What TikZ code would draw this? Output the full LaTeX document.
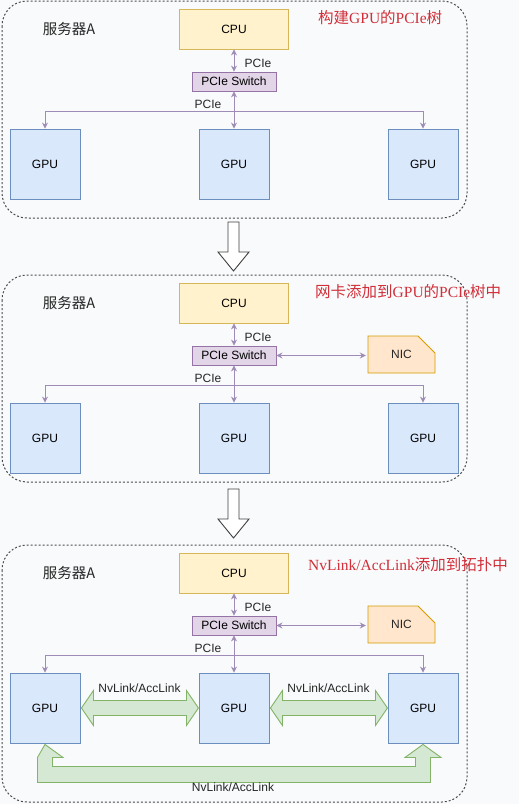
\documentclass[tikz,border=0pt]{standalone}
\usepackage{fontspec}
\setmainfont{Liberation Sans}
\newfontfamily\cjk{Noto Sans CJK SC}
\newfontfamily\titleserif{Liberation Serif}
\usetikzlibrary{arrows.meta}

\definecolor{cpufill}{HTML}{FFF2CC}
\definecolor{cpuline}{HTML}{D6B656}
\definecolor{swfill}{HTML}{E1D5E7}
\definecolor{swline}{HTML}{9673A6}
\definecolor{gpufill}{HTML}{DAE8FC}
\definecolor{gpuline}{HTML}{6C8EBF}
\definecolor{nicfill}{HTML}{FFE6CC}
\definecolor{nicline}{HTML}{D79B00}
\definecolor{nvfill}{HTML}{D5E8D4}
\definecolor{nvline}{HTML}{82B366}
\definecolor{linkcol}{HTML}{9F8CB6}
\definecolor{notered}{HTML}{D1303A}
\definecolor{bgcol}{HTML}{F8FAFB}

\tikzset{
  hwbox/.style={draw, line width=0.9pt, inner sep=0pt, font=\fontsize{12}{14}\selectfont},
  cpubox/.style={hwbox, fill=cpufill, draw=cpuline, minimum width=109pt, minimum height=40pt},
  swbox/.style={hwbox, fill=swfill, draw=swline, minimum width=84pt, minimum height=19pt},
  gpubox/.style={hwbox, fill=gpufill, draw=gpuline, minimum width=70pt, minimum height=70pt},
  nicbox/.style={fill=nicfill, draw=nicline, line width=0.9pt},
  link/.style={draw=linkcol, line width=0.9pt},
  tip/.tip={Stealth[length=6pt, width=6pt]},
  linktext/.style={inner sep=0pt, font=\fontsize{12}{14}\selectfont, text=black!85},
  server/.style={inner sep=0pt, font=\cjk\fontsize{14.5}{16}\selectfont, text=black!85},
  note/.style={inner sep=0pt, anchor=west, text=notered, font=\fontsize{15.5}{17}\selectfont},
  panel/.style={draw=black!70, line width=1pt, dash pattern=on 2pt off 2pt, rounded corners=25pt},
  nvlink/.style={fill=nvfill, draw=nvline, line width=0.9pt},
  stepdown/.style={fill=white, draw=black!75, line width=0.9pt}
}

\begin{document}
\begin{tikzpicture}[x=1pt, y=-1pt]
\useasboundingbox (0,0) rectangle (519,804);
\fill[bgcol] (0,0) rectangle (519,804);

% the three panels
\draw[panel] (2,1) rectangle (467,218);
\draw[panel] (2,275) rectangle (467,482);
\draw[panel] (2,545) rectangle (467,802);

% hollow arrows between panels
\draw[stepdown] (228,222) -- (228,252) -- (218,252) -- (233.5,271) -- (249,252) -- (239,252) -- (239,222) -- cycle;
\draw[stepdown] (228,489) -- (228,519) -- (218,519) -- (233.5,538) -- (249,519) -- (239,519) -- (239,489) -- cycle;

% PCIe tree, same in every panel
\foreach \p/\dy in {1/0,2/274,3/544}{
\begin{scope}[yshift=-\dy pt]
  \node[server] (srv\p) at (69,29) {服务器A};
  \node[cpubox] (cpu\p) at (234,29) {CPU};
  \node[swbox] (sw\p) at (234,81.5) {PCIe Switch};
  \node[gpubox] (gpuA\p) at (45,164) {GPU};
  \node[gpubox] (gpuB\p) at (234,164) {GPU};
  \node[gpubox] (gpuC\p) at (423,164) {GPU};
  \coordinate (bus\p) at (234,111);
  \node[linktext] (pa\p) at (258,63) {PCIe};
  \node[linktext] (pb\p) at (208,104) {PCIe};
  \draw[link, tip-tip] (cpu\p.south) -- (sw\p.north);
  \draw[link, tip-tip] (sw\p.south) -- (gpuB\p.north);
  \draw[link, -tip] (bus\p) -| (gpuA\p.north);
  \draw[link, -tip] (bus\p) -| (gpuC\p.north);
\end{scope}
}

% NIC on the switch
\foreach \p/\dy in {2/274,3/544}{
\begin{scope}[yshift=-\dy pt]
  \draw[nicbox] (368,62) -- (418,62) -- (435,79) -- (435,99) -- (368,99) -- cycle;
  \node[linktext] (nic\p) at (401.5,80.5) [minimum width=67pt, minimum height=37pt] {NIC};
  \draw[link, tip-tip] (sw\p.east) -- ([xshift=-2pt]sw\p.east -| nic\p.west);
\end{scope}
}

% red notes
\node[note] (n1) at (318,18) {\cjk 构建{\titleserif GPU}的{\titleserif PCIe}树};
\node[note] (n2) at (315,292) {\cjk 网卡添加到{\titleserif GPU}的{\titleserif PCIe}树中};
\node[note] (n3) at (308,565) {{\titleserif NvLink/AccLink}\cjk 添加到拓扑中};

% NvLink / AccLink
\path[nvlink] ([xshift=1pt]gpuA3.east) -- ++(12,-17.5) -- ++(0,10) -- ++(93,0) -- ++(0,-10) -- ++(12,17.5)
  -- ++(-12,17.5) -- ++(0,-10) -- ++(-93,0) -- ++(0,10) -- cycle;
\path[nvlink] ([xshift=1pt]gpuB3.east) -- ++(12,-17.5) -- ++(0,10) -- ++(93,0) -- ++(0,-10) -- ++(12,17.5)
  -- ++(-12,17.5) -- ++(0,-10) -- ++(-93,0) -- ++(0,10) -- cycle;
\path[nvlink] ([yshift=-1pt]gpuA3.south) -- ++(18,13) -- ++(-10.5,0) -- ++(0,9) -- ++(363,0) -- ++(0,-9)
  -- ++(-10.5,0) -- ++(18,-13) -- ++(18,13) -- ++(-10.5,0) -- ++(0,25) -- ++(-393,0) -- ++(0,-25) -- cycle;
\node[linktext] (nvab) at (139.5,688) {NvLink/AccLink};
\node[linktext] (nvbc) at (328.5,688) {NvLink/AccLink};
\node[linktext] (nvac) at (233,787) {NvLink/AccLink};

\end{tikzpicture}
\end{document}
